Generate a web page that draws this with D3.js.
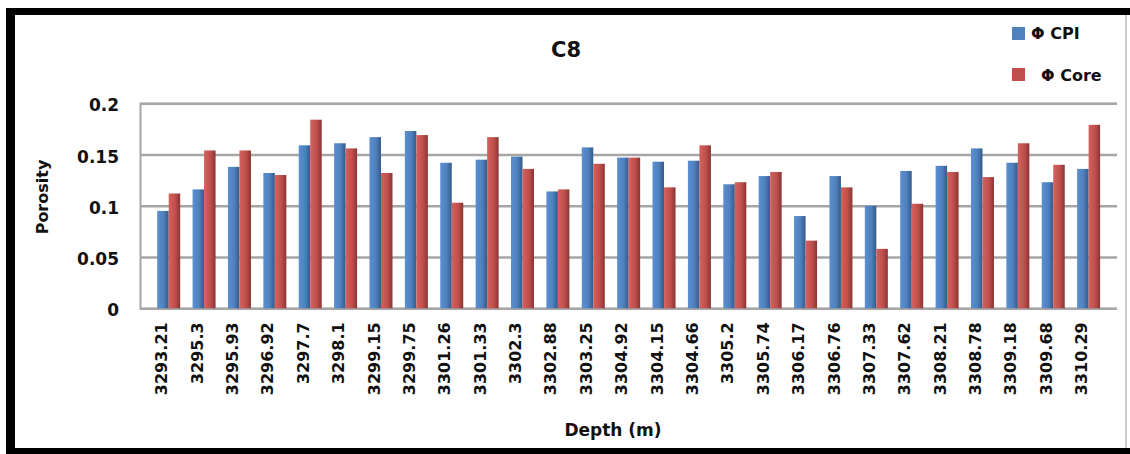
<!DOCTYPE html>
<html>
<head>
<meta charset="utf-8">
<script src="https://cdn.jsdelivr.net/npm/d3@7"></script>
<style>
  body { margin: 0; background: #fff; }
  text { font-family: "DejaVu Sans", sans-serif; font-weight: bold; fill: #111; }
</style>
</head>
<body>
<div id="chart"></div>
<script>
// depths (categories) and the two porosity series
const depths = ["3293.21", "3295.3", "3295.93", "3296.92", "3297.7", "3298.1", "3299.15", "3299.75",
  "3301.26", "3301.33", "3302.3", "3302.88", "3303.25", "3304.92", "3304.15", "3304.66", "3305.2",
  "3305.74", "3306.17", "3306.76", "3307.33", "3307.62", "3308.21", "3308.78", "3309.18", "3309.68", "3310.29"];
const phiCPI = [0.095, 0.116, 0.138, 0.132, 0.159, 0.161, 0.167, 0.173, 0.142, 0.145, 0.148, 0.114, 0.157, 0.147,
  0.143, 0.144, 0.121, 0.129, 0.090, 0.129, 0.100, 0.134, 0.139, 0.156, 0.142, 0.123, 0.136];
const phiCore = [0.112, 0.154, 0.154, 0.130, 0.184, 0.156, 0.132, 0.169, 0.103, 0.167, 0.136, 0.116, 0.141, 0.147,
  0.118, 0.159, 0.123, 0.133, 0.066, 0.118, 0.058, 0.102, 0.133, 0.128, 0.161, 0.140, 0.179];
const yTicks = [0, 0.05, 0.1, 0.15, 0.2];
const seriesNames = ["Φ CPI", "Φ Core"];

const W = 1130, H = 454;
const plot = {left: 140, right: 1117, top: 103.3, bottom: 308.3};

const svg = d3.select("#chart")
  .append("svg")
    .attr("width", W)
    .attr("height", H);

svg.append("rect").attr("width", W).attr("height", H).attr("fill", "#fff");

// gradients for the shaded bars
const defs = svg.append("defs");
function grad(id, c1, c2, c3) {
  const g = defs.append("linearGradient").attr("id", id)
    .attr("x1", "0%").attr("x2", "100%").attr("y1", "0%").attr("y2", "0%");
  g.append("stop").attr("offset", "0%").attr("stop-color", c1);
  g.append("stop").attr("offset", "55%").attr("stop-color", c2);
  g.append("stop").attr("offset", "100%").attr("stop-color", c3);
}
grad("gBlue", "#5a8fd2", "#4f81bd", "#36598a");
grad("gRed", "#d4615d", "#c0504d", "#8a3533");

// outer frame
svg.append("rect").attr("x", 7).attr("y", 8).attr("width", W - 7).attr("height", 7).attr("fill", "#000");
svg.append("rect").attr("x", 6).attr("y", 8).attr("width", 9).attr("height", H - 8).attr("fill", "#000");
svg.append("rect").attr("x", 6).attr("y", 448).attr("width", W - 6).attr("height", 6).attr("fill", "#000");
svg.append("line").attr("x1", 1126).attr("x2", 1126).attr("y1", 15).attr("y2", 448)
  .attr("stroke", "#bbb").attr("stroke-width", 1.5);

const x = d3.scaleBand()
    .domain(depths)
    .range([151.0, 1106.3])
    .paddingInner(0.35)
    .paddingOuter(0.175);
const xs = d3.scaleBand()
    .domain(seriesNames)
    .range([0, x.bandwidth()]);
const y = d3.scaleLinear()
    .domain([0, 0.2])
    .range([plot.bottom, plot.top]);

// y axis with gridlines
const yAxis = svg.append("g")
  .attr("transform", `translate(${plot.left}, 0)`)
  .call(d3.axisLeft(y).tickValues(yTicks).tickFormat(d3.format(""))
    .tickSize(-(plot.right - plot.left)).tickPadding(21));
yAxis.select(".domain").attr("stroke", "#a6a6a6").attr("stroke-width", 2);
yAxis.selectAll(".tick line").attr("stroke", "#a6a6a6").attr("stroke-width", 2.5);
yAxis.selectAll(".tick text")
  .style("font-size", "17px")
  .attr("dy", "0.45em");

// bars
const rows = depths.map((d, i) => ({depth: d, vals: [phiCPI[i], phiCore[i]]}));
const groups = svg.append("g").selectAll("g")
  .data(rows)
  .join("g")
    .attr("transform", d => `translate(${x(d.depth)}, 0)`);
groups.selectAll("rect")
  .data(d => d.vals.map((v, k) => ({name: seriesNames[k], v: v})))
  .join("rect")
    .attr("x", d => xs(d.name))
    .attr("y", d => y(d.v))
    .attr("width", xs.bandwidth())
    .attr("height", d => y(0) - y(d.v))
    .attr("fill", d => d.name === seriesNames[0] ? "url(#gBlue)" : "url(#gRed)");

// x axis labels
const xAxis = svg.append("g")
  .attr("transform", `translate(0, ${plot.bottom})`)
  .call(d3.axisBottom(x).tickSize(0));
xAxis.select(".domain").remove();
xAxis.selectAll(".tick text")
  .style("font-size", "16px")
  .attr("text-anchor", "end")
  .attr("transform", "rotate(-90)")
  .attr("x", -14)
  .attr("y", -7)
  .attr("dy", "0.35em");

// titles
svg.append("text")
  .attr("x", 566).attr("y", 57)
  .attr("text-anchor", "middle")
  .style("font-size", "21px")
  .text("C8");
svg.append("text")
  .attr("transform", "translate(48, 197) rotate(-90)")
  .attr("text-anchor", "middle")
  .style("font-size", "16px")
  .text("Porosity");
svg.append("text")
  .attr("x", 613).attr("y", 436)
  .attr("text-anchor", "middle")
  .style("font-size", "17px")
  .text("Depth (m)");

// legend
const legend = [
  {name: seriesNames[0], fill: "#4f81bd", rx: 1012, ry: 27, tx: 1031, ty: 39},
  {name: seriesNames[1], fill: "#c0504d", rx: 1012, ry: 68, tx: 1041, ty: 81}
];
svg.selectAll(".leg-rect")
  .data(legend)
  .join("rect")
    .attr("class", "leg-rect")
    .attr("x", d => d.rx).attr("y", d => d.ry)
    .attr("width", 13).attr("height", 13)
    .attr("fill", d => d.fill);
svg.selectAll(".leg-text")
  .data(legend)
  .join("text")
    .attr("class", "leg-text")
    .attr("x", d => d.tx).attr("y", d => d.ty)
    .style("font-size", "16px")
    .text(d => d.name);
</script>
</body>
</html>
